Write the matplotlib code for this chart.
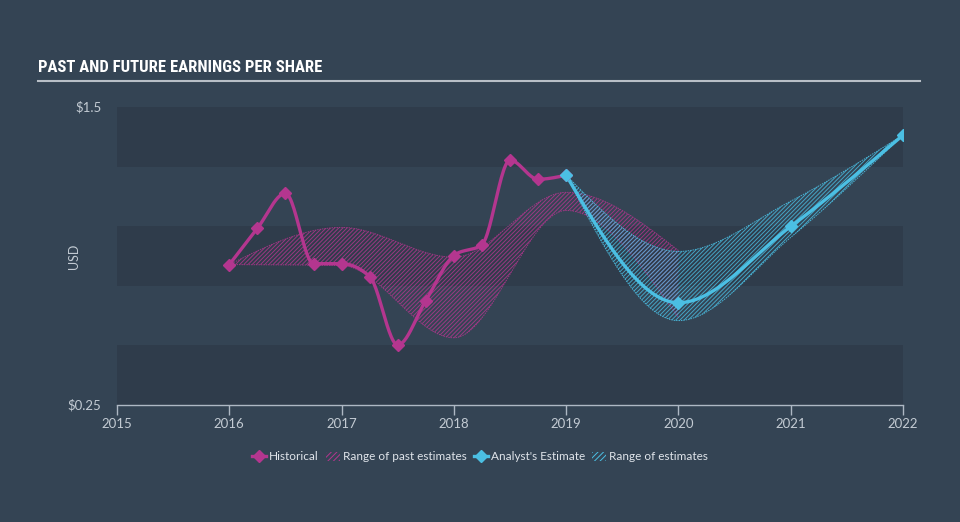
import numpy as np
import matplotlib
matplotlib.use("Agg")
import matplotlib.pyplot as plt
from matplotlib.lines import Line2D
from matplotlib.patches import Patch


# historical eps (quarterly points)
hist_x = [2016.0, 2016.25, 2016.5, 2016.75, 2017.0, 2017.25, 2017.5, 2017.75,
          2018.0, 2018.25, 2018.5, 2018.75, 2019.0]
hist_y = [0.839, 0.991, 1.138, 0.843, 0.843, 0.789, 0.502, 0.688,
          0.877, 0.923, 1.277, 1.197, 1.214]

# range of past estimates
past_x = [2016, 2017, 2018, 2019, 2020]
past_hi = [0.839, 0.995, 0.870, 1.142, 0.898]
past_lo = [0.839, 0.835, 0.532, 1.066, 0.616]

# analyst estimate and range
est_x = [2019, 2020, 2021, 2022]
est_y = [1.214, 0.679, 0.999, 1.382]
est_hi = [1.214, 0.894, 1.105, 1.382]
est_lo = [1.214, 0.604, 0.953, 1.382]

years = [2015, 2016, 2017, 2018, 2019, 2020, 2021, 2022]

BG = '#344454'
BAND = '#2f3c4b'
TXT = '#c3cbd3'
MAG = '#b4368f'
CYAN = '#4bbfe3'


def monotone(x, y, n=300):
    # d3-style monotone cubic, only used to smooth the drawn curve
    x = np.asarray(x, float)
    y = np.asarray(y, float)
    h = np.diff(x)
    s = np.diff(y) / h
    m = np.zeros_like(y)
    for i in range(1, len(y) - 1):
        p = (s[i - 1] * h[i] + s[i] * h[i - 1]) / (h[i - 1] + h[i])
        m[i] = (np.sign(s[i - 1]) + np.sign(s[i])) * min(abs(s[i - 1]), abs(s[i]), 0.5 * abs(p))
    m[0] = (3 * s[0] - m[1]) / 2 if len(y) > 2 else s[0]
    m[-1] = (3 * s[-1] - m[-2]) / 2 if len(y) > 2 else s[-1]
    xs, ys = [], []
    for i in range(len(h)):
        t = np.linspace(0, 1, n // len(h) + 2)
        h00 = 2 * t**3 - 3 * t**2 + 1
        h10 = t**3 - 2 * t**2 + t
        h01 = -2 * t**3 + 3 * t**2
        h11 = t**3 - t**2
        xs.append(x[i] + t * h[i])
        ys.append(h00 * y[i] + h10 * h[i] * m[i] + h01 * y[i + 1] + h11 * h[i] * m[i + 1])
    return np.concatenate(xs), np.concatenate(ys)


plt.rcParams['hatch.linewidth'] = 0.7

fig = plt.figure(figsize=(9.6, 5.22), dpi=100, facecolor=BG)
ax = fig.add_axes([117 / 960, 1 - 405 / 522, 786 / 960, 298 / 522])
ax.set_facecolor(BG)
ax.set_xlim(2015, 2022)
ax.set_ylim(0.25, 1.5)

# alternating bands
for k in range(5):
    if k % 2 == 0:
        ax.axhspan(0.25 + k * 0.25, 0.5 + k * 0.25, color=BAND, lw=0, zorder=0)

# past estimate range
px, phi = monotone(past_x, past_hi)
_, plo = monotone(past_x, past_lo)
ax.fill_between(px, plo, phi, facecolor='none', edgecolor=(0.71, 0.21, 0.56, 0.8),
                hatch='////////', lw=0, zorder=2)
ax.plot(px, phi, color=MAG, lw=0.7, ls=(0, (1.5, 1)), alpha=0.8, zorder=2)
ax.plot(px, plo, color=MAG, lw=0.7, ls=(0, (1.5, 1)), alpha=0.8, zorder=2)

# estimate range
ex, ehi = monotone(est_x, est_hi)
_, elo = monotone(est_x, est_lo)
ax.fill_between(ex, elo, ehi, facecolor='none', edgecolor=(0.29, 0.75, 0.89, 0.8),
                hatch='////////', lw=0, zorder=3)
ax.plot(ex, ehi, color=CYAN, lw=0.7, ls=(0, (1.5, 1)), alpha=0.9, zorder=3)
ax.plot(ex, elo, color=CYAN, lw=0.7, ls=(0, (1.5, 1)), alpha=0.9, zorder=3)

# lines
hx, hy = monotone(hist_x, hist_y)
ax.plot(hx, hy, color=MAG, lw=2.4, zorder=4, solid_capstyle='round')
ax.plot(hist_x, hist_y, ls='none', marker='D', ms=6, color=MAG, zorder=5)
cx, cy = monotone(est_x, est_y)
ax.plot(cx, cy, color=CYAN, lw=2.4, zorder=4, solid_capstyle='round')
ax.plot(est_x, est_y, ls='none', marker='D', ms=6, color=CYAN, zorder=5)

# axes styling
for sp in ['top', 'right', 'left']:
    ax.spines[sp].set_visible(False)
ax.spines['bottom'].set_color('#aeb8c4')
ax.spines['bottom'].set_linewidth(1)
ax.set_xticks(years)
ax.set_xticklabels([str(y) for y in years])
ax.tick_params(axis='x', colors='#aeb8c4', length=7, width=1, pad=2, labelsize=9.5,
               labelcolor=TXT)
ax.set_yticks([])
ax.text(-0.02, 1.0, '$1.5', transform=ax.transAxes, ha='right', va='center',
        color=TXT, fontsize=9.5, family='Lato')
ax.text(-0.02, 0.0, '$0.25', transform=ax.transAxes, ha='right', va='center',
        color=TXT, fontsize=9.5, family='Lato')
ax.text(-0.055, 0.5, 'USD', transform=ax.transAxes, ha='center', va='center',
        rotation=90, color=TXT, fontsize=9, family='Lato')
for lbl in ax.get_xticklabels():
    lbl.set_family('Lato')

# title and rule
fig.text(38 / 960, 1 - 68 / 522, 'PAST AND FUTURE EARNINGS PER SHARE', color='white',
         fontsize=12, fontweight='bold', fontstretch='condensed',
         family=['Liberation Sans Narrow', 'Roboto Condensed', 'DejaVu Sans'],
         va='center', ha='left')
fig.add_artist(Line2D([38 / 960, 920 / 960], [1 - 81 / 522, 1 - 81 / 522],
                      color='#b8bfc7', lw=1.5, transform=fig.transFigure))

# legend
handles = [
    Line2D([], [], color=MAG, lw=2.4, marker='D', ms=6),
    Patch(facecolor='none', edgecolor=MAG, hatch='//////', lw=0),
    Line2D([], [], color=CYAN, lw=2.4, marker='D', ms=6),
    Patch(facecolor='none', edgecolor=CYAN, hatch='//////', lw=0),
]
labels = ['Historical', 'Range of past estimates', "Analyst's Estimate", 'Range of estimates']
leg = fig.legend(handles, labels, loc='center', bbox_to_anchor=(0.5, 1 - 457 / 522),
                 ncol=4, frameon=False, handlelength=1.2, handletextpad=0.25,
                 columnspacing=0.6, prop={'family': 'Lato', 'size': 8.5})
for t in leg.get_texts():
    t.set_color('#dfe4ea')

fig.savefig('out.png', dpi=100, facecolor=BG)
